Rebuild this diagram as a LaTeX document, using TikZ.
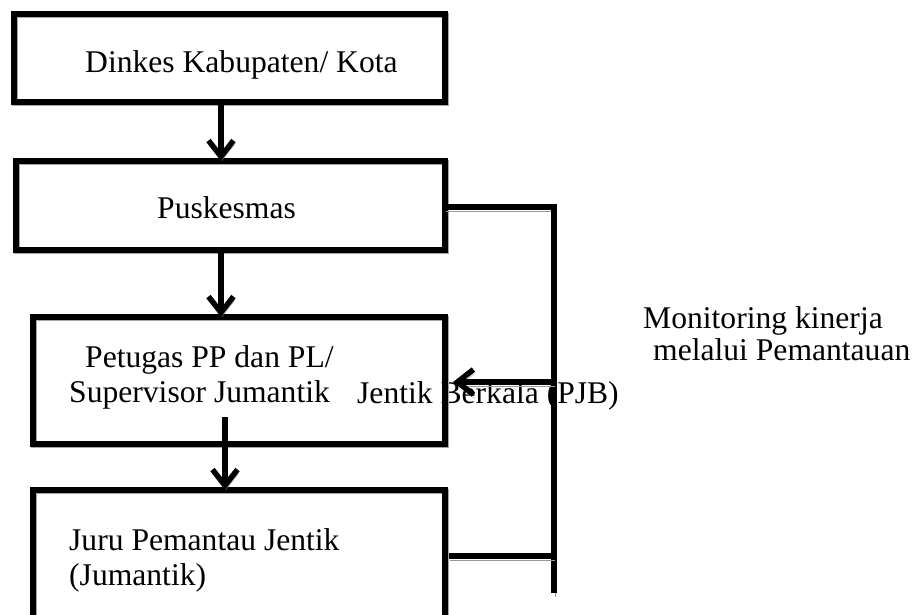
\documentclass[tikz,border=0pt]{standalone}
\usepackage{fontspec}
\setmainfont{Liberation Serif}
\usetikzlibrary{arrows.meta}
\begin{document}
\begin{tikzpicture}[x=1pt,y=-1pt,
  box/.style={draw, line width=5.5pt, rectangle, inner sep=0pt, outer sep=0pt,
    preaction={draw=black!35, transform canvas={shift={(1,1.5)}}}},
  lbl/.style={anchor=base west, inner sep=0pt, font=\fontsize{31.6}{36}\selectfont},
  conn/.style={line width=5.5pt,
    preaction={draw=black!40, transform canvas={shift={(1,4)}}}},
  arr/.style={conn, -{Straight Barb[length=16pt,width=25pt,line width=5.5pt]}},
]
\useasboundingbox (0,0) rectangle (919,614);
\clip (0,0) rectangle (919,614);

% texts
\node[lbl] (t1) at (85,72) {Dinkes Kabupaten/ Kota};
\node[lbl] (t2) at (157,218) {Puskesmas};
\node[lbl] (t3a) at (85,367) {Petugas PP dan PL/};
\node[lbl] (t3b) at (69,402) {Supervisor Jumantik};
\node[lbl] (t4a) at (69,550) {Juru Pemantau Jentik};
\node[lbl] (t4b) at (69,585) {(Jumantik)};
\node[lbl] (m1) at (643,328) {Monitoring kinerja};
\node[lbl] (m2) at (653,360) {melalui Pemantauan};
\node[lbl] (m3) at (357,403) {Jentik Berkala (PJB)};

% boxes
\node[box, minimum width=431pt, minimum height=88pt] (dinkes) at (229.5,58) {};
\node[box, minimum width=429pt, minimum height=89pt] (pusk) at (230.5,205.5) {};
\node[box, minimum width=412pt, minimum height=127pt] (petugas) at (239,380.5) {};
\node[box, minimum width=412pt, minimum height=170pt] (jumantik) at (239,575) {};

% vertical flow arrows
\coordinate (x1) at (221,0);
\draw[arr] (x1 |- dinkes.south) -- (x1 |- pusk.north);
\draw[arr] (x1 |- pusk.south) -- (x1 |- petugas.north);
\coordinate (a3) at (225,417);
\draw[arr] (a3) -- (a3 |- jumantik.north);

% monitoring bracket
\coordinate (bt) at (554,207);
\coordinate (bb) at (554,593);
\coordinate (bm) at (554,382);
\coordinate (bl) at (554,556);
\draw[conn] (pusk.east |- bt) -- (bt) -- (bb);
\draw[arr, shorten >=8pt] (bm) -- (petugas.east |- bm);
\draw[conn, shorten <=4pt] (jumantik.east |- bl) -- (bl);
\end{tikzpicture}
\end{document}
